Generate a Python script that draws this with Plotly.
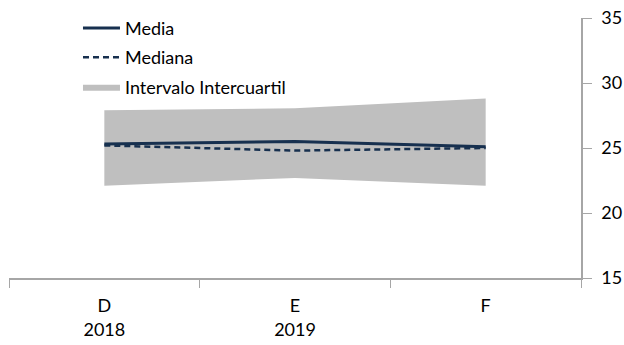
import plotly.graph_objects as go

# Categorías del eje x (mes y año)
meses = ["D", "E", "F"]
etiquetas_x = ["D<br>2018", "E<br>2019", "F"]

# Series
media = [25.3, 25.5, 25.1]
mediana = [25.2, 24.8, 25.0]
p25 = [22.1, 22.7, 22.1]
p75 = [27.9, 28.05, 28.8]

azul = "#17304F"
gris_banda = "#BFBFBF"
gris_eje = "#A6A6A6"
fuente = "Lato"

fig = go.Figure()

# Banda del intervalo intercuartil
fig.add_trace(go.Scatter(
    x=meses, y=p25, mode="lines", line=dict(width=0, color=gris_banda),
    showlegend=False, hoverinfo="skip", legendgroup="banda",
))
fig.add_trace(go.Scatter(
    x=meses, y=p75, mode="lines", line=dict(width=0, color=gris_banda),
    fill="tonexty", fillcolor=gris_banda, name="Intervalo Intercuartil",
    legendrank=3, legendgroup="banda",
))

fig.add_trace(go.Scatter(
    x=meses, y=media, mode="lines", name="Media",
    line=dict(color=azul, width=3), legendrank=1, legendgroup="media",
))
fig.add_trace(go.Scatter(
    x=meses, y=mediana, mode="lines", name="Mediana",
    line=dict(color=azul, width=2.5, dash="6px,4px"), legendrank=2,
    legendgroup="mediana",
))

fig.update_layout(
    width=624, height=345,
    margin=dict(l=9, r=43, t=18, b=67, autoexpand=False),
    paper_bgcolor="white", plot_bgcolor="white",
    font=dict(family=fuente, size=18, color="black"),
    showlegend=True,
    legend=dict(
        x=0.1206, y=1.032, xanchor="left", yanchor="top",
        bgcolor="rgba(0,0,0,0)", borderwidth=0,
        font=dict(family=fuente, size=18, color="black"),
        traceorder="grouped", tracegroupgap=3, itemwidth=37,
    ),
    xaxis=dict(
        type="category", range=[-0.5, 2.5],
        tickmode="array", tickvals=meses, ticktext=etiquetas_x,
        tickson="boundaries", ticks="outside", ticklen=8, tickcolor=gris_eje,
        showline=True, linecolor=gris_eje, linewidth=1.5,
        showgrid=False, zeroline=False, ticklabelstandoff=11,
        automargin=False,
    ),
    yaxis=dict(
        side="right", range=[15, 35], dtick=5,
        ticks="outside", ticklen=9, tickcolor=gris_eje,
        showline=True, linecolor=gris_eje, linewidth=1.5,
        showgrid=False, zeroline=False, ticklabelstandoff=6,
        automargin=False,
    ),
)

fig.write_html("out.html")
